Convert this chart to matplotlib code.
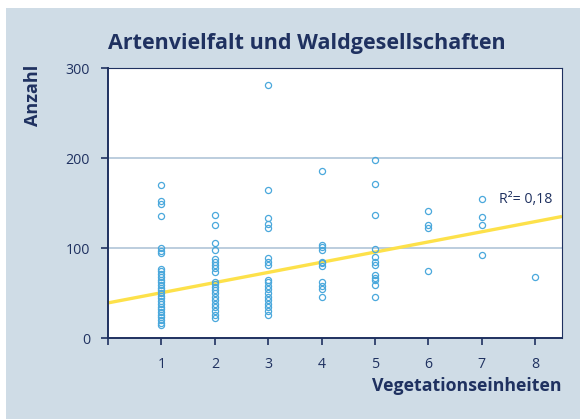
import numpy as np
import matplotlib
matplotlib.use('Agg')
import matplotlib.pyplot as plt
from matplotlib.patches import Rectangle

# Anzahl je Vegetationseinheit
col1 = [170, 152, 149, 136, 100, 97, 94,
        77, 74, 71, 68, 65, 62, 59, 56, 53, 50, 47, 44, 41, 38, 35, 32, 29, 26, 23, 20, 17, 14]
col2 = [137, 126, 106, 98, 88, 84, 81, 78, 73, 62, 60, 57, 53, 50, 46, 42, 38, 34, 30, 26, 22]
col3 = [281, 164, 133, 127, 122, 89, 85, 81, 65, 62, 58, 54, 50, 46, 42, 38, 34, 30, 26]
col4 = [186, 103, 101, 98, 85, 83, 80, 62, 58, 55, 46]
col5 = [198, 171, 137, 99, 90, 85, 81, 70, 67, 65, 59, 46]
col6 = [141, 125, 122, 74]
col7 = [154, 134, 126, 92]
col8 = [68]
columns = [col1, col2, col3, col4, col5, col6, col7, col8]

# Regressionsgerade
fit_x = [0, 8.5]
fit_y = [39, 135]
r2_label = 'R²= 0,18'

navy = '#1f3160'
bg = '#cfdce6'
blue = '#4aa8dc'

plt.rcParams['font.family'] = ['Open Sans', 'DejaVu Sans']

fig = plt.figure(figsize=(5.8, 4.19), dpi=100)
fig.patch.set_facecolor('white')
fig.patches.append(Rectangle((6 / 580, 0), 1, 411 / 419, transform=fig.transFigure,
                             facecolor=bg, edgecolor='none', zorder=-10))

ax = fig.add_axes([108 / 580, (419 - 338) / 419, (562 - 108) / 580, (338 - 68) / 419])
ax.set_facecolor('white')

for i, vals in enumerate(columns):
    xs = [i + 1] * len(vals)
    ax.plot(xs, vals, 'o', markersize=4.4, markerfacecolor='none',
            markeredgecolor=blue, markeredgewidth=0.9, zorder=3)

ax.plot(fit_x, fit_y, color='#fde14a', linewidth=2.4, zorder=2, solid_capstyle='butt')

for yv in [100, 200]:
    ax.axhline(yv, color='#a9c0d4', linewidth=1.1, zorder=1)

ax.set_xlim(0, 8.5)
ax.set_ylim(0, 300)
ax.set_xticks(range(0, 9))
ax.set_xticklabels([''] + [str(i) for i in range(1, 9)])
ax.set_yticks([0, 100, 200, 300])
ax.tick_params(axis='both', colors=navy, labelcolor=navy, labelsize=10.2, length=5, width=1.2)
ax.tick_params(axis='x', pad=9)
ax.tick_params(axis='y', pad=8)

for side in ['left', 'bottom']:
    ax.spines[side].set_color(navy)
    ax.spines[side].set_linewidth(1.4)
for side in ['top', 'right']:
    ax.spines[side].set_color(navy)
    ax.spines[side].set_linewidth(0.8)

ax.text(7.32, 154, r2_label, fontsize=10.2, color=navy, va='center', ha='left')

fig.text(108 / 580, 1 - 44 / 419, 'Artenvielfalt und Waldgesellschaften', fontsize=15.5,
         fontweight='bold', color=navy, ha='left', va='center')
fig.text(33 / 580, 1 - 95 / 419, 'Anzahl', fontsize=13, fontweight='bold', color=navy,
         rotation=90, ha='center', va='center')
fig.text(561 / 580, 1 - 386 / 419, 'Vegetationseinheiten', fontsize=12.8, fontweight='bold',
         color=navy, ha='right', va='center')

fig.savefig('out.png', dpi=100)
